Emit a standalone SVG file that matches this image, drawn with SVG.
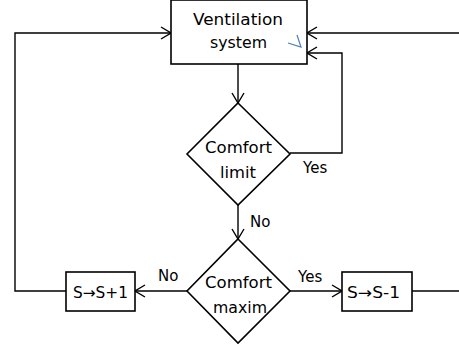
<svg xmlns="http://www.w3.org/2000/svg" width="459" height="347" viewBox="0 0 459 347">
<style>
.shape{fill:#fff;stroke:#000;stroke-width:1.6}
.ln{fill:none;stroke:#000;stroke-width:1.4}
.t{font-family:"DejaVu Sans","Liberation Sans",sans-serif;font-size:16.5px;fill:#000}
.lbl{font-size:15px}
.sm{font-size:15.5px}
</style>
<defs>
<marker id="arr" markerWidth="12" markerHeight="14" refX="11" refY="7" orient="auto" markerUnits="userSpaceOnUse">
<path d="M1,1 L11,7 L1,13" fill="none" stroke="#000" stroke-width="1.4"/>
</marker>
</defs>
<g id="connectors">
<path class="ln" d="M238,64 V103" marker-end="url(#arr)"/>
<path class="ln" d="M290,153 H342 V53 H307" marker-end="url(#arr)"/>
<path class="ln" d="M459,33 H307" marker-end="url(#arr)"/>
<path class="ln" d="M238,205 V239" marker-end="url(#arr)"/>
<path class="ln" d="M187,291 H135" marker-end="url(#arr)"/>
<path class="ln" d="M290,291 H342" marker-end="url(#arr)"/>
<path class="ln" d="M66,291 H15 V33 H171" marker-end="url(#arr)"/>
<path class="ln" d="M412,291 H459"/>
<text class="t lbl" x="303" y="173">Yes</text>
<text class="t lbl" x="250" y="227">No</text>
<text class="t lbl" x="158" y="281">No</text>
<text class="t lbl" x="298" y="282">Yes</text>
</g>
<g id="ventilation">
<rect class="shape" x="171" y="0" width="136" height="64"/>
<text class="t" x="193" y="25" textLength="90" lengthAdjust="spacingAndGlyphs">Ventilation</text>
<text class="t" x="210" y="48" textLength="57" lengthAdjust="spacingAndGlyphs">system</text>
<path d="M288,43 L301,47 L297,35" fill="none" stroke="#4a7ebb" stroke-width="1.2"/>
</g>
<g id="comfort-limit">
<polygon class="shape" points="238,103 290,154 238,205 187,154"/>
<text class="t" x="205" y="153" textLength="67" lengthAdjust="spacingAndGlyphs">Comfort</text>
<text class="t" x="220" y="178" textLength="36" lengthAdjust="spacingAndGlyphs">limit</text>
</g>
<g id="comfort-maxim">
<polygon class="shape" points="238,239 290,291 238,343 187,291"/>
<text class="t" x="205" y="288" textLength="67" lengthAdjust="spacingAndGlyphs">Comfort</text>
<text class="t" x="213" y="313" textLength="54" lengthAdjust="spacingAndGlyphs">maxim</text>
</g>
<g id="s-plus">
<rect class="shape" x="66" y="272" width="69" height="39"/>
<text class="t sm" x="73" y="298" textLength="55" lengthAdjust="spacingAndGlyphs">S→S+1</text>
</g>
<g id="s-minus">
<rect class="shape" x="342" y="272" width="70" height="39"/>
<text class="t sm" x="347" y="298" textLength="53" lengthAdjust="spacingAndGlyphs">S→S-1</text>
</g>
</svg>
